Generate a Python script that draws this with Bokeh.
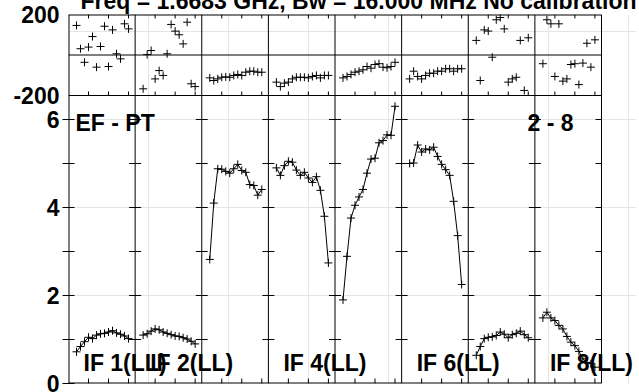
import math
from bokeh.plotting import figure
from bokeh.models import Range1d, FixedTicker, LinearAxis, Span
from bokeh.layouts import column
from bokeh.embed import file_html
from bokeh.resources import INLINE
from bokeh.core.properties import value

# ---------------- data ----------------
title_text = "Freq = 1.6683 GHz, Bw = 16.000 MHz  No calibration"
baseline_label = "EF - PT"
pol_label = "2 - 8"
if_names = ["IF 1(LL)", "IF 2(LL)", "IF 3(LL)", "IF 4(LL)",
            "IF 5(LL)", "IF 6(LL)", "IF 7(LL)", "IF 8(LL)"]
shown_if_labels = [0, 1, 3, 5, 7]
channels = list(range(2, 16))
channel_ticks = [5, 10, 15]
amp_ticks_major = [0, 2, 4, 6]
amp_ticks_all = [0, 1, 2, 3, 4, 5, 6]
phase_ticks = [-200, 200]

amp_if1 = [0.72, 0.84, 0.95, 1.05, 1.02, 1.10, 1.13, 1.14, 1.17, 1.20, 1.15, 1.12, 1.08, 1.02]
amp_if2 = [1.10, 1.13, 1.19, 1.24, 1.22, 1.17, 1.14, 1.11, 1.08, 1.07, 1.04, 1.01, 0.96, 0.90]
amp_if3 = [2.82, 4.10, 4.88, 4.87, 4.82, 4.78, 4.88, 4.98, 4.84, 4.80, 4.52, 4.50, 4.28, 4.41]
amp_if4 = [4.90, 4.73, 4.95, 5.05, 5.03, 4.85, 4.73, 4.80, 4.67, 4.57, 4.70, 4.39, 3.80, 2.74]
amp_if5 = [1.90, 2.89, 3.76, 4.05, 4.24, 4.41, 4.78, 5.10, 5.12, 5.47, 5.52, 5.65, 5.64, 6.30]
amp_if6 = [5.00, 5.01, 5.42, 5.26, 5.33, 5.31, 5.37, 5.16, 4.98, 4.86, 4.73, 4.14, 3.36, 2.25]
amp_if7 = [0.64, 0.84, 1.02, 1.05, 1.06, 1.09, 1.17, 1.12, 1.04, 1.11, 1.14, 1.19, 1.11, 1.04]
amp_if8 = [1.49, 1.62, 1.49, 1.43, 1.32, 1.24, 1.07, 0.94, 0.86, 0.73, 0.56, 0.48, 0.45, 0.37]

phase_if1 = [146, 31, -36, 39, 91, -60, 42, 142, -57, 124, 6, -19, 154, 129]
phase_if2 = [-167, 2, 22, -118, -77, -101, 6, 151, 118, 100, 55, 162, -142, -156]
phase_if3 = [-113, -126, -118, -110, -108, -110, -101, -96, -101, -85, -80, -80, -85, -85]
phase_if4 = [-134, -156, -139, -134, -118, -110, -110, -110, -113, -106, -101, -113, -101, -101]
phase_if5 = [-113, -106, -96, -85, -80, -73, -57, -65, -47, -43, -60, -63, -57, -36]
phase_if6 = [-118, -80, -106, -118, -101, -90, -90, -80, -80, -68, -68, -80, -68, -68]
phase_if7 = [72, -126, 124, 118, -11, 174, 185, 129, -134, -118, -110, 72, -175, 85]
phase_if8 = [-43, 174, 154, -106, 154, -129, -118, -47, -43, -146, -40, 58, -60, 75]

amps = [amp_if1, amp_if2, amp_if3, amp_if4, amp_if5, amp_if6, amp_if7, amp_if8]
phases = [phase_if1, phase_if2, phase_if3, phase_if4, phase_if5, phase_if6, phase_if7, phase_if8]

# ---------------- layout constants ----------------
PANEL = 16.65            # channel units spanned by one IF panel
NIF = len(if_names)
FONT = "Liberation Sans"
FS = "23px"
BOX_W = 533              # px width of the boxed plot
EXTRA_W = 35             # px of free room right of the box (for the overflowing IF label)
AMP_H = 288              # px of the amplitude band
PH_H = 81                # px of the phase band
AMP_TOP = 6.545          # amplitude value at the band boundary
FRAME_H = AMP_H + PH_H
X_END = NIF * PANEL

# amplitude on the main range, phase on an extra range occupying the top band
y_main = Range1d(0, AMP_TOP * FRAME_H / AMP_H)
ph_lo, ph_hi = phase_ticks
ph_per_px = (ph_hi - ph_lo) / PH_H
y_phase = Range1d(ph_lo - AMP_H * ph_per_px, ph_hi)
xr = Range1d(0, X_END * (BOX_W + EXTRA_W) / BOX_W)


def xs(i):
    return [i * PANEL + c for c in channels]


tick_x = [i * PANEL + c for i in range(NIF) for c in channel_ticks]
sep_x = [i * PANEL for i in range(1, NIF)]

p = figure(x_range=xr, y_range=y_main, frame_width=BOX_W + EXTRA_W, frame_height=FRAME_H,
           min_border_left=60, min_border_right=0, min_border_top=32, min_border_bottom=9,
           x_axis_location=None, y_axis_location=None, output_backend="svg",
           toolbar_location=None, title=title_text,
           background_fill_color="white", border_fill_color="white")
p.extra_y_ranges = {"phase": y_phase}
p.outline_line_color = None

p.title.text_font = FONT
p.title.text_font_style = "bold"
p.title.text_font_size = FS
p.title.text_color = "black"
p.title.align = "left"
p.title.offset = 12
p.title.standoff = 2

# left axis: amplitude labels plus the phase band's limits (-200 at band bottom, 200 at top)
phase_label_pos = [AMP_TOP, y_main.end]
overrides = {pos: str(t) for pos, t in zip(phase_label_pos, phase_ticks)}
p.add_layout(LinearAxis(ticker=FixedTicker(ticks=amp_ticks_major + phase_label_pos,
                                           minor_ticks=amp_ticks_all),
                        major_label_overrides=overrides,
                        major_tick_in=0, major_tick_out=0, minor_tick_in=6, minor_tick_out=6,
                        minor_tick_line_color="black",
                        axis_line_color=None, major_label_standoff=3,
                        major_label_text_font=FONT, major_label_text_font_style="bold",
                        major_label_text_font_size=FS, major_label_text_color="black"), "left")

# box around the plot (edges on the frame border drawn wider, half is clipped)
p.segment(x0=[0, 0], y0=[0, y_main.end], x1=[X_END, X_END], y1=[0, y_main.end],
          line_color="black", line_width=2)
p.segment(x0=[0], y0=[0], x1=[0], y1=[y_main.end], line_color="black", line_width=2)
p.segment(x0=[X_END], y0=[0], x1=[X_END], y1=[y_main.end], line_color="black", line_width=1)
# panel separators, band boundary and phase zero line
for s in sep_x:
    p.add_layout(Span(location=s, dimension="height", line_color="black", line_width=1))
p.segment(x0=[0, 0], y0=[ph_lo, 0], x1=[X_END, X_END], y1=[ph_lo, 0], y_range_name="phase",
          line_color="black", line_width=1)

# channel ticks (inward)
n = len(tick_x)
p.ray(x=tick_x, y=[0] * n, length=5, length_units="screen", angle=math.pi / 2,
      line_color="black", line_width=1)
p.ray(x=tick_x, y=[ph_lo] * n, length=4, length_units="screen", angle=math.pi / 2,
      y_range_name="phase", line_color="black", line_width=1)
p.ray(x=tick_x, y=[ph_hi] * n, length=4, length_units="screen", angle=-math.pi / 2,
      y_range_name="phase", line_color="black", line_width=1)

# amplitude ticks on separators and right edge
sep_ticks_y = amp_ticks_all[1:]
p.scatter([s for s in sep_x for _ in sep_ticks_y], [y for _ in sep_x for y in sep_ticks_y],
          marker="dash", size=12, line_color="black", line_width=1)
p.ray(x=[X_END] * len(sep_ticks_y), y=sep_ticks_y, length=6, length_units="screen",
      angle=math.pi, line_color="black", line_width=1)

# data
for i in range(NIF):
    p.scatter(xs(i), phases[i], y_range_name="phase", marker="cross", size=8,
              line_color="black", line_width=1)
    p.line(xs(i), amps[i], line_color="black", line_width=1)
    p.scatter(xs(i), amps[i], marker="cross", size=8, line_color="black", line_width=1)

txt = dict(text_font=value(FONT), text_font_style="bold", text_font_size=FS, text_color="black",
           text_baseline="alphabetic")
p.text(x=[0], y=[AMP_TOP], text=[baseline_label], x_offset=7, y_offset=27,
       text_align="left", **txt)
p.text(x=[X_END], y=[AMP_TOP], text=[pol_label], x_offset=-28, y_offset=27,
       text_align="right", **txt)
p.text(x=[i * PANEL for i in shown_if_labels], y=[0] * len(shown_if_labels),
       text=[if_names[i] for i in shown_if_labels], x_offset=15, y_offset=-21,
       text_align="left", **txt)

root = column(p, styles={"margin-top": "-18px", "margin-left": "8px", "margin-bottom": "-20px"})
open("out.html", "w").write(file_html(root, INLINE))
